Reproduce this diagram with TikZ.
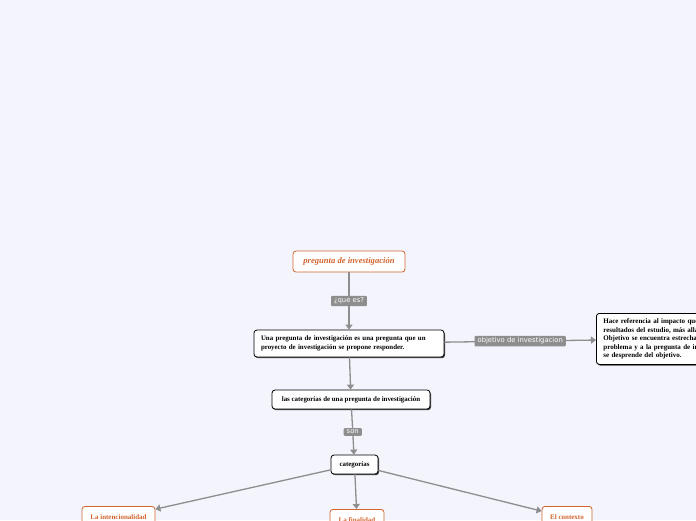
\documentclass[tikz,border=0pt]{standalone}
\usepackage{fontspec}
\setmainfont{Liberation Serif}
\newfontfamily\tagfont{DejaVu Sans}
\usetikzlibrary{arrows.meta,positioning,shadows}
\definecolor{mapBack}  {HTML}{F3F4FC}
\definecolor{mapOrange}{HTML}{D2652F}
\definecolor{mapLine}  {HTML}{8E8E8E}

\begin{document}
\begin{tikzpicture}[x=1pt, y=-1pt,
      topic/.style={draw=mapOrange, thick, rounded corners=3pt, fill=white,
                    text=mapOrange, minimum height=21pt, inner xsep=7pt,
                    font=\fontsize{8.6}{10}\selectfont\bfseries\itshape},
      idea/.style={draw=black, thick, rounded corners=3pt, fill=white,
                   inner xsep=7pt, font=\fontsize{6.9}{9}\selectfont\bfseries,
                   drop shadow={shadow xshift=1pt, shadow yshift=-1.2pt,
                                fill=black!75, opacity=1}},
      sub/.style={draw=mapOrange, thick, rounded corners=3pt, fill=white,
                  text=mapOrange, minimum height=22pt, inner xsep=6pt,
                  font=\fontsize{7}{8}\selectfont\bfseries},
      tag/.style={fill=mapLine, text=white, rounded corners=1pt,
                  inner xsep=3pt, inner ysep=2pt,
                  font=\tagfont\fontsize{6.8}{8}\selectfont},
      flow/.style={draw=mapLine, line width=1.3pt,
                   -{Triangle[length=5pt, width=7pt]}}]

    \useasboundingbox[fill=mapBack] (0,0) rectangle (696,520);

    \node[topic, minimum width=112pt] (preg) at (349,261.5) {pregunta de investigación};
    \node[idea, text width=176pt, minimum height=27pt, align=left] (defi) at (349,343.5)
      {Una pregunta de investigación es una pregunta que un\\
       proyecto de investigación se propone responder.};
    \node[idea, anchor=north west, text width=150pt, minimum height=51pt,
          align=left, font=\fontsize{7}{8.5}\selectfont\bfseries] (obje) at (596,313)
      {Hace referencia al impacto que\\
       resultados del estudio, más allá\\
       Objetivo se encuentra estrecha\\
       problema y a la pregunta de in\\
       se desprende del objetivo.};
    \node[idea, minimum height=19pt, minimum width=158pt] (cate) at (351,399.5)
      {las categorías de una pregunta de investigación};
    \node[idea, minimum height=19pt, minimum width=47pt] (cats) at (354.5,464.5)
      {categorías};

    \node[sub, anchor=north, minimum width=73pt] (inte) at (118.5,506) {La intencionalidad};
    \node[sub, anchor=north, minimum width=54pt] (fina) at (357,509) {La finalidad};
    \node[sub, anchor=north, minimum width=50pt] (cont) at (567,506) {El contexto};

    \draw[flow] (preg) -- node[tag] {¿que es?} (defi);
    \draw[flow] (defi) -- node[tag] {objetivo de investigacion} (obje);
    \draw[flow] (defi) -- (cate);
    \draw[flow] (cate) -- node[tag] {son} (cats);
    \draw[flow] (cats) -- (inte);
    \draw[flow] (cats) -- (fina);
    \draw[flow] (cats) -- (cont);
  \end{tikzpicture}
\end{document}
